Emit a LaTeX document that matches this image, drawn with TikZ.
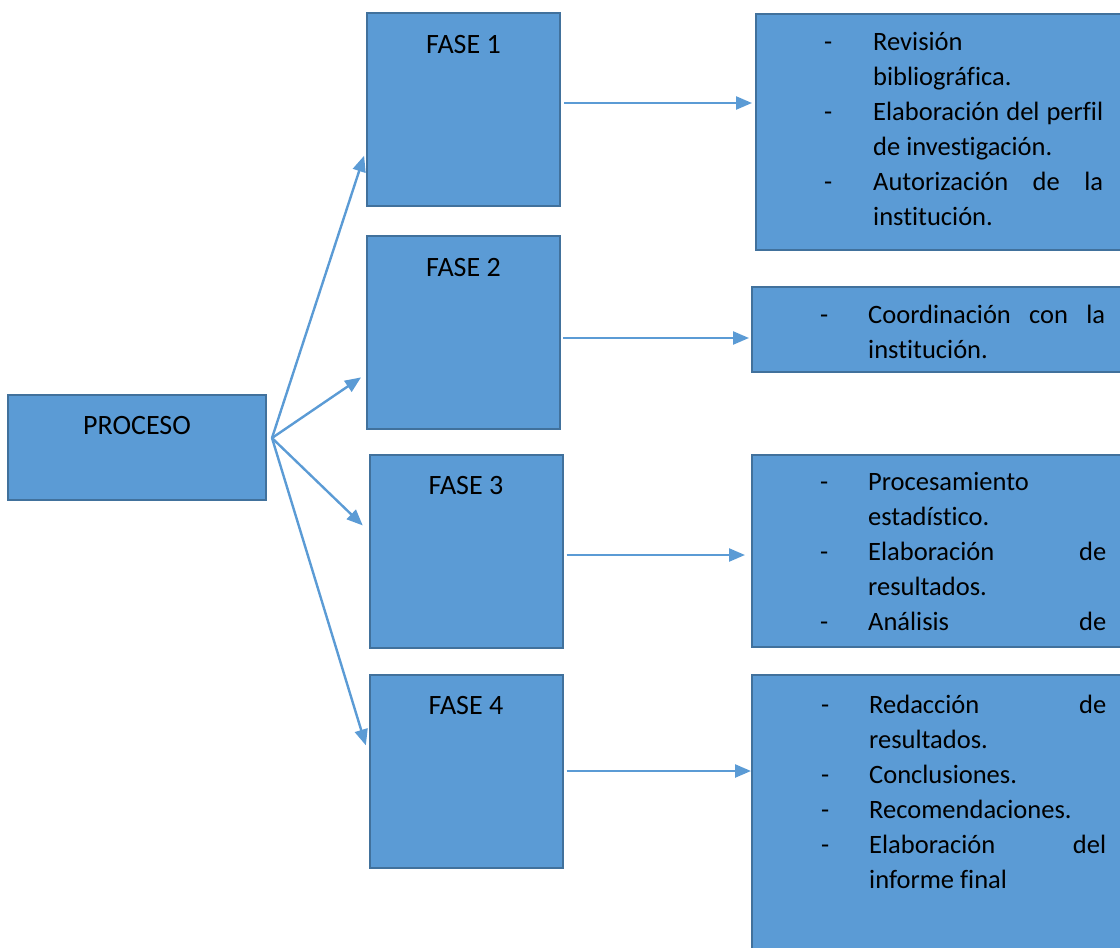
\documentclass[tikz,border=0pt]{standalone}
\usepackage{fontspec}
\setmainfont{Carlito}[Ligatures=NoCommon]
\usepackage{tikz}
\usetikzlibrary{arrows.meta}

\definecolor{boxfill}{HTML}{5B9BD5}
\definecolor{boxline}{HTML}{41719C}
\newcommand{\jline}[2]{\makebox[#1][s]{#2}}

\begin{document}
\begin{tikzpicture}[x=1pt, y=-1pt,
  box/.style={rectangle, draw=boxline, fill=boxfill, line width=2pt, inner sep=0pt},
  fase/.style={box, minimum width=193pt, minimum height=193pt},
  head/.style={inner sep=0pt, font=\fontsize{28}{34}\selectfont},
  item/.style={inner sep=0pt, anchor=base west, font=\fontsize{26.5}{35}\selectfont},
  arr/.style={draw=boxfill, line width=2.4pt, -{Triangle[length=16pt,width=13pt]}}]
  \useasboundingbox (0,0) rectangle (1120,948);

  % left side
  \node[box, minimum width=258pt, minimum height=105pt] (proc) at (137,447.5) {};
  \node[head] (tproc) at (137,426) {PROCESO};
  \node[fase] (f1) at (463.5,109.5) {};
  \node[fase] (f2) at (463.5,332.5) {};
  \node[fase] (f3) at (466,551) {};
  \node[fase] (f4) at (466,771) {};
  \node[head] (tf1) at (463.5,45) {FASE 1};
  \node[head] (tf2) at (463.5,268) {FASE 2};
  \node[head] (tf3) at (466,486) {FASE 3};
  \node[head] (tf4) at (466,706) {FASE 4};

  % right side
  \node[box, minimum width=380pt, minimum height=236pt] (r1) at (946,132) {};
  \node[box, minimum width=384pt, minimum height=85pt] (r2) at (944,329.5) {};
  \node[box, minimum width=384pt, minimum height=192pt] (r3) at (944,551) {};
  \node[box, minimum width=384pt, minimum height=290pt] (r4) at (944,820) {};

  \node[item] (d11) at (824,50) {-};  \node[item] (l11) at (873,50) {Revisión};
  \node[item] (l12) at (873,85) {bibliográfica.};
  \node[item] (d12) at (824,120) {-}; \node[item] (l13) at (873,120) {\jline{230pt}{Elaboración del perfil}};
  \node[item] (l14) at (873,155) {de investigación.};
  \node[item] (d13) at (824,190) {-}; \node[item] (l15) at (873,190) {\jline{230pt}{Autorización de la}};
  \node[item] (l16) at (873,225) {institución.};

  \node[item] (d21) at (820,323) {-}; \node[item] (l21) at (868,323) {\jline{237pt}{Coordinación con la}};
  \node[item] (l22) at (868,358) {institución.};

  \node[item] (d31) at (820,490) {-}; \node[item] (l31) at (868,490) {Procesamiento};
  \node[item] (l32) at (868,525) {estadístico.};
  \node[item] (d32) at (820,560) {-}; \node[item] (l33) at (868,560) {\jline{238pt}{Elaboración de}};
  \node[item] (l34) at (868,595) {resultados.};
  \node[item] (d33) at (820,630) {-}; \node[item] (l35) at (868,630) {\jline{238pt}{Análisis de}};

  \node[item] (d41) at (821,713) {-}; \node[item] (l41) at (869,713) {\jline{237pt}{Redacción de}};
  \node[item] (l42) at (869,748) {resultados.};
  \node[item] (d42) at (821,783) {-}; \node[item] (l43) at (869,783) {Conclusiones.};
  \node[item] (d43) at (821,818) {-}; \node[item] (l44) at (869,818) {Recomendaciones.};
  \node[item] (d44) at (821,853) {-}; \node[item] (l45) at (869,853) {\jline{237pt}{Elaboración del}};
  \node[item] (l46) at (869,888) {informe final};

  % connectors
  \coordinate (o) at (272,438);
  \draw[arr, shorten >=6pt] (o) -- (f1.west |- 0,150);
  \draw[arr, shorten >=6pt] (o) -- (f2.west |- 0,374);
  \draw[arr, shorten >=8pt] (o) -- (f3.west |- 0,531);
  \draw[arr, shorten >=9pt] (o) -- (f4.west |- 0,754);
  \draw[arr, shorten <=3pt, shorten >=3pt] (f1.east |- 0,103) -- (r1.west |- 0,103);
  \draw[arr, shorten <=2pt, shorten >=2pt] (f2.east |- 0,338) -- (r2.west |- 0,338);
  \draw[arr, shorten <=3pt, shorten >=6pt] (f3.east |- 0,555) -- (r3.west |- 0,555);
  \draw[arr, shorten <=3pt] (f4.east |- 0,771) -- (r4.west |- 0,771);
\end{tikzpicture}
\end{document}
